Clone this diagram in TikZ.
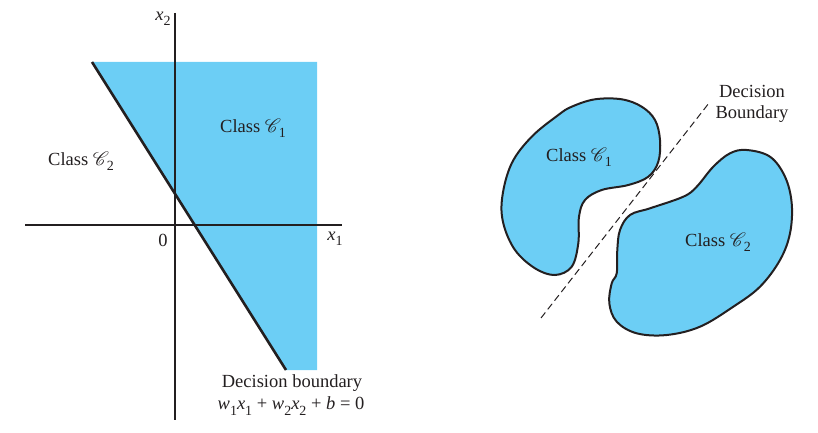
\documentclass[tikz,border=0pt]{standalone}
\usepackage{fontspec}
\setmainfont{Liberation Serif}
\usepackage{mathrsfs}
\usepackage{graphicx}
\definecolor{skyfill}{RGB}{108,206,245}
\definecolor{inkline}{RGB}{35,31,32}
\newcommand{\sbs}[1]{\raisebox{-0.28em}{\fontsize{14}{14}\selectfont #1}}
\newcommand{\clsC}[1]{\scalebox{1.12}{$\mathscr{C}$}\kern-0.12em\sbs{#1}}
\newcommand{\vi}[1]{\textit{#1}}
\tikzset{
  lbl/.style={font=\fontsize{18.5}{21}\selectfont, text=inkline, inner sep=0pt},
  axisline/.style={draw=inkline, line width=1.2pt},
  bdline/.style={draw=inkline, line width=2.6pt},
  blob/.style={fill=skyfill, draw=inkline, line width=2pt},
  dashbd/.style={draw=inkline, line width=1pt, dash pattern=on 7pt off 4pt}
}
\begin{document}
\begin{tikzpicture}[x=1pt,y=-1pt]
\useasboundingbox (0,0) rectangle (818,433);
% ---------- left panel ----------
\coordinate (tl) at (92,62);
\coordinate (tr) at (317,62);
\coordinate (br) at (317,370);
\coordinate (bl) at (286,370);
\fill[skyfill] (tl) -- (tr) -- (br) -- (bl) -- cycle;
\coordinate (yaxT) at (175,13);
\coordinate (yaxB) at (175,420);
\coordinate (xaxL) at (25,225);
\coordinate (xaxR) at (342,225);
\draw[axisline] (yaxT) -- (yaxB);
\draw[axisline] (xaxL) -- (xaxR);
\draw[bdline] (tl) -- (bl);
\node[lbl] (x2) at (163,19) {\vi{x}\sbs{2}};
\node[lbl] (x1) at (335,239) {\vi{x}\sbs{1}};
\node[lbl] (zero) at (163,240) {0};
\node[lbl] (c1a) at (253,128) {Class \clsC{1}};
\node[lbl] (c2a) at (81,161) {Class \clsC{2}};
\node[lbl] (db) at (292,383) {Decision boundary};
\node[lbl] (eq) at (291,406) {\vi{w}\sbs{1}\vi{x}\sbs{1} + \vi{w}\sbs{2}\vi{x}\sbs{2} + \vi{b} = 0};
% ---------- right panel ----------
\draw[blob] plot[smooth cycle, tension=0.6] coordinates {
 (595,99.3) (621.7,99.3) (641.7,106.7) (655,120) (660,140) (658.3,161.7)
 (648.3,176.7) (628.3,185) (601.7,190) (585,200) (579,216.7) (578.3,243.3)
 (571.7,266.7) (555,275) (535,268.3) (515,250) (503.3,223.3) (502.3,196.7)
 (511.7,163.3) (531.7,136.7) (558.3,115) (571.7,106.7)};
\draw[blob] plot[smooth cycle, tension=0.6] coordinates {
 (746.7,150) (770,156.7) (785,176.7) (791.7,203.3) (790,233.3) (780,260)
 (760,286.7) (733.3,306.7) (700,326.7) (666.7,335) (636.7,333.3) (616.7,321.7)
 (609.3,303.3) (611.7,283.3) (616.7,273.3) (617.3,250) (620,230) (630,215)
 (650,208.3) (683.3,196.7) (696.7,186.7) (713.3,166.7) (730,153.3)};
\coordinate (dA) at (541,318);
\coordinate (dB) at (709,103);
\draw[dashbd] (dA) -- (dB);
\node[lbl] (c1b) at (579,157) {Class \clsC{1}};
\node[lbl] (c2b) at (718,242) {Class \clsC{2}};
\node[lbl, align=center] (dbr) at (752,104) {Decision\\Boundary};
\end{tikzpicture}
\end{document}
